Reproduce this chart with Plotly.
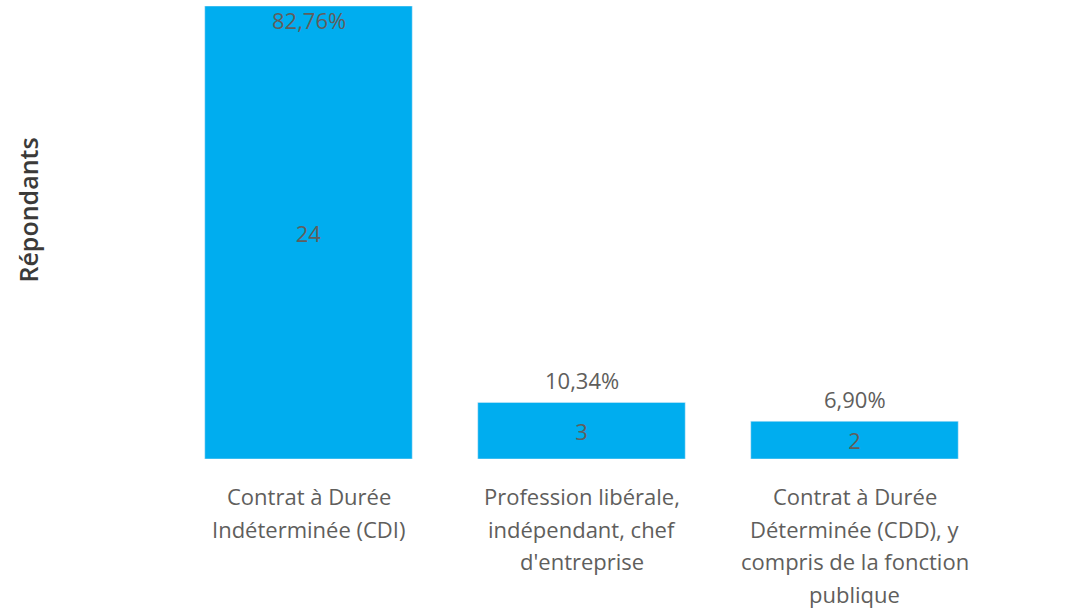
import plotly.graph_objects as go

categories = [
    "Contrat à Durée Indéterminée (CDI)",
    "Profession libérale, indépendant, chef d'entreprise",
    "Contrat à Durée Déterminée (CDD), y compris de la fonction publique",
]
category_lines = [
    ["Contrat à Durée", "Indéterminée (CDI)"],
    ["Profession libérale,", "indépendant, chef", "d'entreprise"],
    ["Contrat à Durée", "Déterminée (CDD), y", "compris de la fonction", "publique"],
]
counts = [24, 3, 2]
percent_labels = ["82,76%", "10,34%", "6,90%"]
axis_title = "Répondants"

bar_color = "#00ADEF"
text_color = "#605E5C"
font_family = "Open Sans, Segoe UI, sans-serif"

fig = go.Figure()
fig.add_trace(go.Bar(
    x=categories,
    y=counts,
    marker_color=bar_color,
    text=[str(c) for c in counts],
    textposition="inside",
    insidetextanchor="middle",
    textfont=dict(family=font_family, size=22, color=text_color),
    hoverinfo="skip",
))

ymax = max(counts)
for cat, val, lab in zip(categories, counts, percent_labels):
    inside = val > 0.9 * ymax
    fig.add_annotation(
        x=cat, y=val, xref="x", yref="y",
        text=lab, showarrow=False,
        yanchor="top" if inside else "bottom",
        yshift=3 if inside else 5,
        font=dict(family=font_family, size=22, color=text_color),
    )

# multi-line category labels with Power BI-like line spacing
for cat, lines in zip(categories, category_lines):
    for i, line in enumerate(lines):
        fig.add_annotation(
            x=cat, y=0, xref="x", yref="paper",
            text=line, showarrow=False,
            yanchor="middle", yshift=-(37 + 32.5 * i),
            font=dict(family=font_family, size=22, color=text_color),
        )

fig.add_annotation(
    x=0, y=0.5, xref="paper", yref="paper",
    xanchor="center", yanchor="middle",
    xshift=-145, yshift=22,
    text=axis_title, textangle=-90, showarrow=False,
    font=dict(family=font_family, size=25, color="#3B3A39", weight=600),
)

fig.update_layout(
    width=1085, height=609,
    margin=dict(l=172, r=94, t=6, b=150, autoexpand=False),
    paper_bgcolor="white", plot_bgcolor="white",
    bargap=0.24,
    showlegend=False,
    font=dict(family=font_family, color=text_color),
)
fig.update_xaxes(
    showgrid=False, showline=False, zeroline=False, showticklabels=False,
    automargin=False,
)
fig.update_yaxes(
    range=[0, ymax], showgrid=False, zeroline=False, showticklabels=False,
    automargin=False,
)

fig.write_html(
    "out.html",
    config={"displayModeBar": False},
    post_script="document.body.style.margin='0';document.body.style.overflow='hidden';",
)
